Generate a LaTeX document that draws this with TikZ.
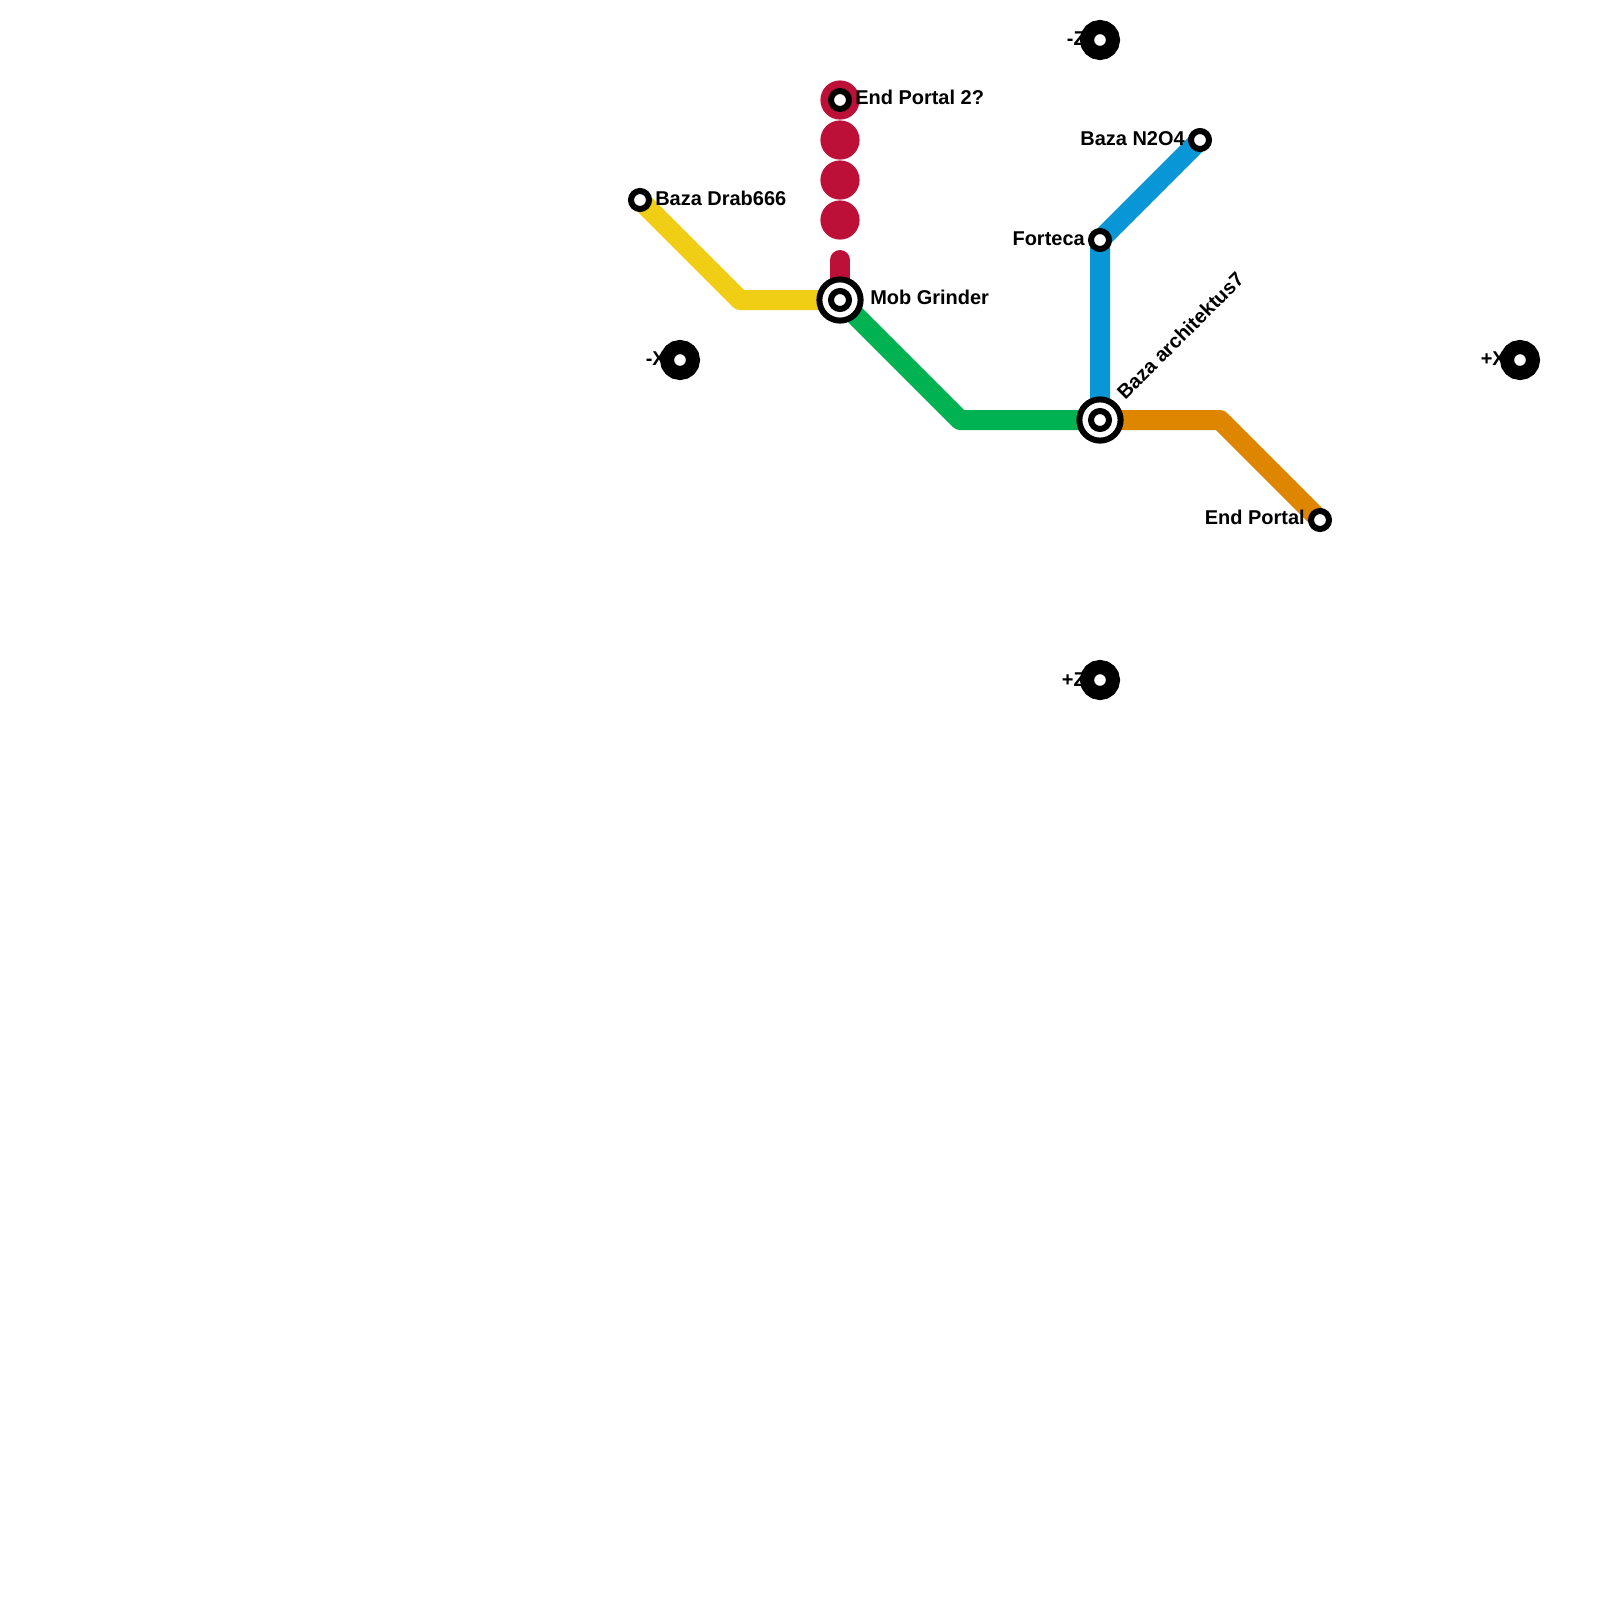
\documentclass[tikz,border=0pt]{standalone}
\usepackage{fontspec}
\setmainfont{Liberation Sans}
\definecolor{linered}{HTML}{BD1038}
\definecolor{lineyellow}{HTML}{F0CE15}
\definecolor{linegreen}{HTML}{00B251}
\definecolor{lineblue}{HTML}{0896D7}
\definecolor{lineorange}{HTML}{DF8600}
\begin{document}
\begin{tikzpicture}[
  x=0.025cm, y=-0.025cm,
  metro/.style={line width=0.5cm, line join=round},
  stub/.style={circle, fill=linered, minimum size=0.98cm, inner sep=0pt},
  station/.style={circle, draw=black, line width=0.15cm, fill=white, minimum size=0.45cm, inner sep=0pt},
  hub/.style={circle, draw=black, line width=0.15cm, fill=white, minimum size=1.03cm, inner sep=0pt},
  pole/.style={circle, draw=black, line width=0.35cm, fill=white, minimum size=0.65cm, inner sep=0pt},
  stoplabel/.style={font=\bfseries\fontsize{14.2}{16}\selectfont, inner sep=0pt}
]
\useasboundingbox (0,0) rectangle (1600,1600);
\fill[white] (0,0) rectangle (1600,1600);
% stops
\coordinate (drab) at (640,200);
\coordinate (yellowbend) at (740,300);
\coordinate (grinder) at (840,300);
\coordinate (stubend) at (840,260);
\coordinate (greenbend) at (960,420);
\coordinate (archi) at (1100,420);
\coordinate (forteca) at (1100,240);
\coordinate (ntwo) at (1200,140);
\coordinate (orangebend) at (1220,420);
\coordinate (endportal) at (1320,520);
% lines
\draw[metro, linered, line cap=round] (grinder) -- (stubend);
\draw[metro, lineyellow] (drab) -- (yellowbend) -- (grinder);
\draw[metro, linegreen] (grinder) -- (greenbend) -- (archi);
\draw[metro, lineblue] (archi) -- (forteca) -- (ntwo);
\draw[metro, lineorange] (archi) -- (orangebend) -- (endportal);
% dotted stretch
\node[stub] (reda) at (840,100) {};
\node[stub] (redb) at (840,140) {};
\node[stub] (redc) at (840,180) {};
\node[stub] (redd) at (840,220) {};
% labels
\node[stoplabel, anchor=west] (lblportaltwo) at (855,97) {End Portal 2?};
\node[stoplabel, anchor=west] (lbldrab) at (655,198) {Baza Drab666};
\node[stoplabel, anchor=west] (lblgrinder) at (870,297) {Mob Grinder};
\node[stoplabel, anchor=east] (lblforteca) at (1085,239) {Forteca};
\node[stoplabel, anchor=east] (lblntwo) at (1185,139) {Baza N2O4};
\node[stoplabel, anchor=east] (lblend) at (1305,517) {End Portal};
\node[stoplabel, anchor=west, rotate=45] (lblarchi) at (1120,396) {Baza architektus7};
\node[stoplabel, anchor=east] (lblminusx) at (666,359) {-X};
\node[stoplabel, anchor=east] (lblplusx) at (1506,359) {+X};
\node[stoplabel, anchor=east] (lblminusz) at (1086,39) {-Z};
\node[stoplabel, anchor=east] (lblplusz) at (1086,680) {+Z};
% stations
\node[station] (portaltwo) at (reda) {};
\node[station] (drabstop) at (drab) {};
\node[station] (fortecastop) at (forteca) {};
\node[station] (ntwostop) at (ntwo) {};
\node[station] (endstop) at (endportal) {};
\node[hub] (grinderhub) at (grinder) {};
\node[station] (grinderstop) at (grinder) {};
\node[hub] (archihub) at (archi) {};
\node[station] (archistop) at (archi) {};
% compass
\node[pole] (minusx) at (680,360) {};
\node[pole] (plusx) at (1520,360) {};
\node[pole] (minusz) at (1100,40) {};
\node[pole] (plusz) at (1100,680) {};
\end{tikzpicture}
\end{document}
